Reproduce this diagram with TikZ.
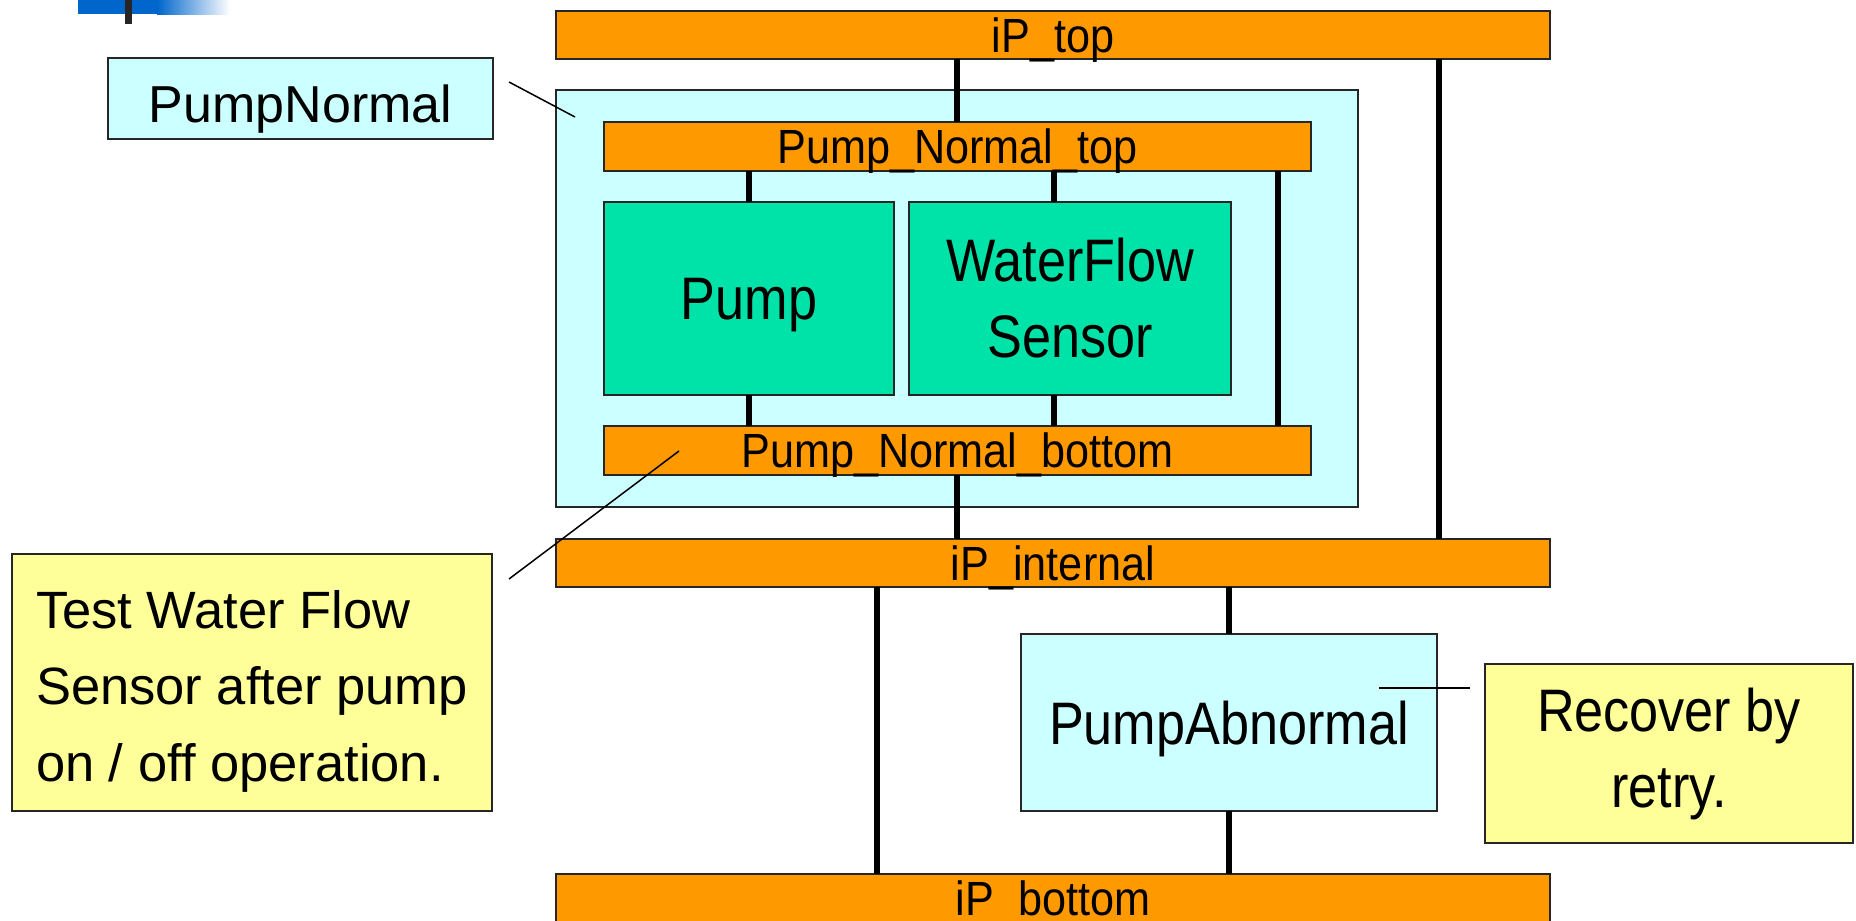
\documentclass[tikz,border=0pt]{standalone}
\usepackage{fontspec}
\setmainfont{Liberation Sans}
\newfontfamily\barf[FakeStretch=0.9]{Liberation Sans}
\newfontfamily\bigf[FakeStretch=0.87]{Liberation Sans}
\definecolor{ppOrange}{RGB}{255,153,0}
\definecolor{ppCyan}{RGB}{204,255,255}
\definecolor{ppGreen}{RGB}{0,227,168}
\definecolor{ppYellow}{RGB}{255,255,153}
\definecolor{ppBlue}{RGB}{0,102,204}
\tikzset{
  boxbase/.style={draw=black!85, line width=1.5pt, inner sep=0pt, outer sep=0pt},
  bar/.style={boxbase, fill=ppOrange, minimum width=994pt, minimum height=48pt,
     text depth=0pt, font=\barf\fontsize{48}{56}\selectfont},
  innerbar/.style={boxbase, fill=ppOrange, minimum width=707pt, minimum height=49pt,
     text depth=0pt, font=\barf\fontsize{48}{56}\selectfont},
  greenbox/.style={boxbase, fill=ppGreen, align=center,
     font=\bigf\fontsize{60}{76}\selectfont},
  cyanbox/.style={boxbase, fill=ppCyan, align=center,
     font=\bigf\fontsize{60}{76}\selectfont},
  note/.style={boxbase, fill=ppYellow,
     font=\bigf\fontsize{60}{76}\selectfont},
  wire/.style={line width=6pt, black},
  pointer/.style={line width=1.5pt, black},
}
\begin{document}
\begin{tikzpicture}[x=1pt,y=-1pt]
\useasboundingbox (0,0) rectangle (1856,921);
\clip (0,0) rectangle (1856,921);
% logo bar
\shade[left color=ppBlue, right color=white, shading angle=90] (157,0) rectangle (230,14);
\fill[ppBlue] (78,0) rectangle (158,14);
\fill[black!85] (125,0) rectangle (132,24);
% PumpNormal container
\node[boxbase, fill=ppCyan, minimum width=802pt, minimum height=417pt] (pnbox) at (957,298.5) {};
% bars and blocks
\node[bar] (iptop) at (1053,35) {iP\_top};
\node[innerbar] (pnt) at (957.5,146.5) {Pump\_Normal\_top};
\node[greenbox, minimum width=290pt, minimum height=193pt, text depth=0pt] (pump) at (749,298.5) {Pump};
\node[greenbox, minimum width=322pt, minimum height=193pt] (wfs) at (1070,298.5) {WaterFlow\\Sensor};
\node[innerbar] (pnb) at (957.5,450.5) {Pump\_Normal\_bottom};
\node[bar] (ipint) at (1053,563) {iP\_internal};
\node[cyanbox, minimum width=416pt, minimum height=177pt, text depth=0pt] (pab) at (1229,722.5) {PumpAbnormal};
\node[bar] (ipbot) at (1053,898) {iP\_bottom};
% annotation boxes
\node[boxbase, fill=ppCyan, minimum width=385pt, minimum height=81pt] (pnlabel) at (300.5,98.5) {};
\node[font=\fontsize{52}{60}\selectfont, text depth=0pt, inner sep=0pt, yshift=-5pt] (pnlabeltext) at (pnlabel.center) {PumpNormal};
\node[boxbase, fill=ppYellow, minimum width=480pt, minimum height=257pt] (test) at (252,682.5) {};
\node[font=\fontsize{52.5}{76.5}\selectfont, align=left, inner sep=0pt, yshift=-8.5pt] (testtext) at (test.center)
  {Test Water Flow\\Sensor after pump\\on / off operation.};
\node[note, minimum width=368pt, minimum height=179pt, align=center] (recover) at (1669,753.5)
  {Recover by\\retry.};
% x positions of wires
\coordinate (xa) at (749,0);
\coordinate (xb) at (1054,0);
\coordinate (xc) at (1278,0);
\coordinate (xd) at (957,0);
\coordinate (xe) at (1439,0);
\coordinate (xf) at (877,0);
\coordinate (xg) at (1229,0);
% wires
\draw[wire] (iptop.south -| xd) -- (pnt.north -| xd);
\draw[wire] (iptop.south -| xe) -- (ipint.north -| xe);
\draw[wire] (pnt.south -| xa) -- (pump.north -| xa);
\draw[wire] (pump.south -| xa) -- (pnb.north -| xa);
\draw[wire] (pnt.south -| xb) -- (wfs.north -| xb);
\draw[wire] (wfs.south -| xb) -- (pnb.north -| xb);
\draw[wire] (pnt.south -| xc) -- (pnb.north -| xc);
\draw[wire] (pnb.south -| xd) -- (ipint.north -| xd);
\draw[wire] (ipint.south -| xf) -- (ipbot.north -| xf);
\draw[wire] (ipint.south -| xg) -- (pab.north -| xg);
\draw[wire] (pab.south -| xg) -- (ipbot.north -| xg);
% pointer lines
\coordinate (p1s) at (509,82);
\coordinate (p1e) at (575,117);
\coordinate (p2s) at (509,579);
\coordinate (p2e) at (679,451);
\coordinate (p3s) at (1379,688);
\coordinate (p3e) at (1470,688);
\draw[pointer] (p1s) -- (p1e);
\draw[pointer] (p2s) -- (p2e);
\draw[pointer] (p3s) -- (p3e);
\end{tikzpicture}
\end{document}
